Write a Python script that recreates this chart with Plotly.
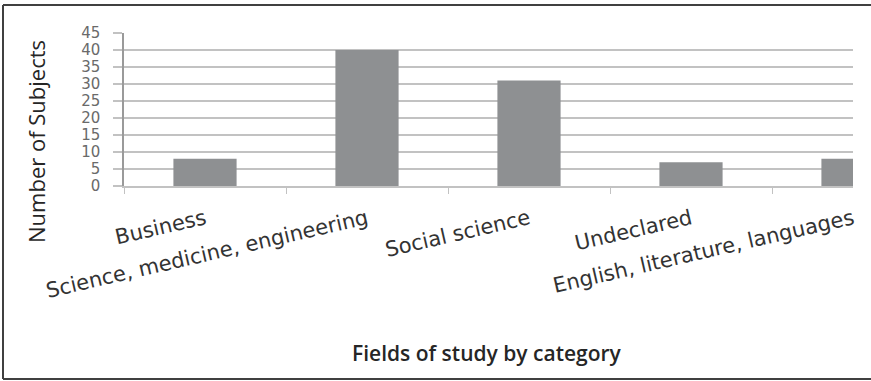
import plotly.graph_objects as go

# Survey data: number of subjects per field of study
categories = [
    "Business",
    "Science, medicine, engineering",
    "Social science",
    "Undeclared",
    "English, literature, languages",
]
subjects = [8, 40, 31, 7, 8]
y_ticks = [0, 5, 10, 15, 20, 25, 30, 35, 40, 45]

# Canvas and plot-area geometry (pixels)
W, H = 871, 381
L, R, T, B = 124, 18, 33, 195
PW, PH = W - L - R, H - T - B


def px_x(px):
    return (px - L) / PW


def px_y(py):
    return (H - B - py) / PH


GRID = "#c2c2c2"
BORDER = "#404040"

fig = go.Figure(
    go.Bar(
        x=categories,
        y=subjects,
        width=0.39,
        marker=dict(color="#8e9092", line=dict(width=0)),
    )
)

fig.update_layout(
    width=W,
    height=H,
    margin=dict(l=L, r=R, t=T, b=B, pad=0),
    paper_bgcolor="white",
    plot_bgcolor="white",
    showlegend=False,
    bargap=0.6,
)

fig.update_xaxes(
    type="category",
    range=[-0.5, 4.0],
    showgrid=False,
    showline=True,
    linecolor=GRID,
    linewidth=1.5,
    ticks="outside",
    tickson="boundaries",
    ticklen=6,
    tickcolor=GRID,
    tickwidth=1,
    tickangle=-13,
    ticklabelstandoff=11,
    tickfont=dict(family="DejaVu Sans", size=21, color="#333333"),
)

fig.update_yaxes(
    range=[0, 45],
    tickvals=y_ticks,
    ticktext=[str(v) for v in y_ticks],
    showgrid=True,
    gridcolor=GRID,
    gridwidth=1.5,
    zeroline=False,
    showline=True,
    linecolor="#9a9a9a",
    linewidth=1.5,
    ticks="outside",
    ticklen=9,
    tickcolor=GRID,
    tickwidth=1.5,
    ticklabelstandoff=10,
    tickfont=dict(family="DejaVu Sans", size=15, color="#6a6a6a"),
)

# Axis titles
fig.add_annotation(
    text="Fields of study by category",
    xref="paper", yref="paper",
    x=px_x(487), y=px_y(353),
    xanchor="center", yanchor="middle",
    showarrow=False,
    font=dict(family="Open Sans", size=21, color="#262626", weight=600),
)
fig.add_annotation(
    text="Number of Subjects",
    xref="paper", yref="paper",
    x=px_x(36), y=px_y(142),
    xanchor="center", yanchor="middle",
    textangle=-90,
    showarrow=False,
    font=dict(family="Open Sans", size=22, color="#262626", weight=500),
)

# Frame around the chart (open on the right side)
for x0, y0, x1, y1 in [(3, 5, 871, 5), (3, 5, 3, 379), (3, 379, 871, 379)]:
    fig.add_shape(
        type="line",
        xref="paper", yref="paper",
        x0=px_x(x0), y0=px_y(y0), x1=px_x(x1), y1=px_y(y1),
        line=dict(color=BORDER, width=2),
    )

fig.write_html("out.html")
